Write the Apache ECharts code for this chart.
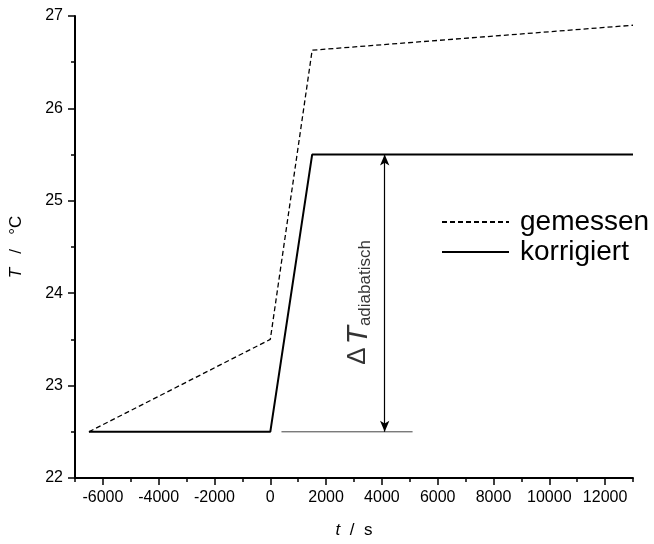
<!DOCTYPE html>
<html>
<head>
<meta charset="utf-8">
<script src="https://cdn.jsdelivr.net/npm/echarts@6/dist/echarts.min.js"></script>
<style>html,body{margin:0;padding:0;background:#fff}#c{width:654px;height:544px}</style>
</head>
<body>
<div id="c"></div>
<script>
// Data
const gemessenX = [-6500, 0, 1500, 13000];
const gemessenY = [22.5, 23.5, 26.63, 26.9];
const korrigiertX = [-6500, 0, 1500, 13000];
const korrigiertY = [22.5, 22.5, 25.5, 25.5];
const baseLineX = [400, 5100];
const baseLineY = [22.5, 22.5];
const arrowX = 4100;
const arrowFrom = 22.5;
const arrowTo = 25.5;
const labelPos = [3150, 23.9];
const xMajorTicks = [-6000, -4000, -2000, 0, 2000, 4000, 6000, 8000, 10000, 12000];
const xMinorTicks = [-7000, -5000, -3000, -1000, 1000, 3000, 5000, 7000, 9000, 11000, 13000];
const yTicks = [22, 23, 24, 25, 26, 27];
const seriesNames = ['gemessen', 'korrigiert'];

const FONT = 'Liberation Sans, Arial, sans-serif';
const pair = (xs, ys) => xs.map((x, i) => [x, ys[i]]);
const plain = v => String(v);

const chart = echarts.init(document.getElementById('c'), null, {renderer: 'canvas'});
chart.setOption({
  animation: false,
  backgroundColor: '#fff',
  grid: {left: 70, right: 21, top: 16, bottom: 60, containLabel: false},
  legend: {
    orient: 'vertical', left: 441, top: 208, padding: 0,
    itemWidth: 67, itemHeight: 14, itemGap: 2,
    itemStyle: {opacity: 0},
    textStyle: {fontSize: 28, fontFamily: FONT, color: '#000', padding: [0, 0, 0, 6]},
    data: seriesNames
  },
  xAxis: [{
    type: 'value', min: -7000, max: 13000, position: 'bottom',
    name: '{i|t}  /  s', nameLocation: 'middle', nameGap: 44,
    nameTextStyle: {fontSize: 17, fontFamily: FONT, color: '#000',
      rich: {i: {fontStyle: 'italic', fontSize: 17, fontFamily: FONT, color: '#000'}}},
    axisLine: {show: true, onZero: false, lineStyle: {color: '#000', width: 2}},
    axisTick: {show: true, length: 7, customValues: xMajorTicks, lineStyle: {color: '#000', width: 1.5}},
    axisLabel: {customValues: xMajorTicks, formatter: plain, fontSize: 16, fontFamily: FONT, color: '#000', margin: 12},
    splitLine: {show: false}
  }, {
    type: 'value', min: -7000, max: 13000, position: 'bottom',
    axisLine: {show: false, onZero: false},
    axisTick: {show: true, length: 4, customValues: xMinorTicks, lineStyle: {color: '#000', width: 1.5}},
    axisLabel: {show: false},
    splitLine: {show: false}
  }],
  yAxis: {
    type: 'value', min: 22, max: 27, interval: 1,
    name: '{i|T}   /   °C', nameLocation: 'middle', nameGap: 50,
    nameTextStyle: {fontSize: 17, fontFamily: FONT, color: '#000',
      rich: {i: {fontStyle: 'italic', fontSize: 17, fontFamily: FONT, color: '#000'}}},
    axisLine: {show: true, onZero: false, lineStyle: {color: '#000', width: 2}},
    axisTick: {show: true, length: 7, customValues: yTicks, lineStyle: {color: '#000', width: 1.5}},
    minorTick: {show: true, splitNumber: 2, length: 4, lineStyle: {color: '#000', width: 1.5}},
    axisLabel: {customValues: yTicks, formatter: plain, fontSize: 16, fontFamily: FONT, color: '#000', margin: 12},
    splitLine: {show: false}
  },
  series: [{
    name: seriesNames[0], type: 'line', symbol: 'none', xAxisIndex: 0,
    data: pair(gemessenX, gemessenY),
    lineStyle: {color: '#000', width: 1.3, type: [5, 3]},
    itemStyle: {color: '#000'}
  }, {
    name: seriesNames[1], type: 'line', symbol: 'none', xAxisIndex: 0,
    data: pair(korrigiertX, korrigiertY),
    lineStyle: {color: '#000', width: 2, type: 'solid'},
    itemStyle: {color: '#000'}
  }, {
    name: 'base', type: 'line', symbol: 'none', xAxisIndex: 0,
    data: pair(baseLineX, baseLineY),
    lineStyle: {color: '#444', width: 1},
    markLine: {
      silent: true, symbol: ['arrow', 'arrow'], symbolSize: [7, 11],
      label: {show: false},
      lineStyle: {color: '#000', width: 1.2, type: 'solid'},
      emphasis: {disabled: true},
      data: [[{coord: [arrowX, arrowFrom]}, {coord: [arrowX, arrowTo]}]]
    }
  }, {
    name: 'label', type: 'scatter', xAxisIndex: 0, symbolSize: 0,
    data: [labelPos],
    label: {
      show: true, position: 'inside', rotate: 90,
      formatter: '{d|Δ}{t|T}{s|adiabatisch}',
      rich: {
        d: {fontSize: 26, fontFamily: FONT, color: '#000', padding: [0, 3, 0, 0]},
        t: {fontSize: 30, fontStyle: 'italic', fontFamily: FONT, color: '#000'},
        s: {fontSize: 17, fontFamily: FONT, color: '#000', verticalAlign: 'bottom', padding: [14, 0, 0, 0]}
      }
    }
  }]
});
</script>
</body>
</html>
